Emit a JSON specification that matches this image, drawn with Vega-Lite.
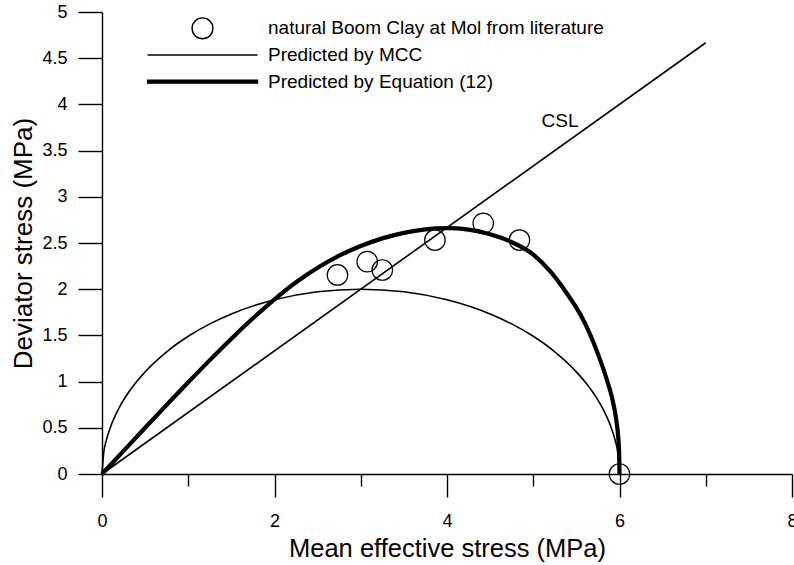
{
  "$schema": "https://vega.github.io/schema/vega-lite/v6.json",
  "width": 690,
  "height": 462,
  "autosize": "none",
  "padding": {"left": 102, "top": 12, "right": 2, "bottom": 91},
  "background": "white",
  "config": {
    "view": {"stroke": null},
    "font": "Liberation Sans",
    "axis": {
      "grid": false,
      "domainColor": "black",
      "domainWidth": 1.4,
      "tickColor": "black",
      "tickWidth": 1.4,
      "labelColor": "black",
      "titleColor": "black",
      "labelFont": "Liberation Sans",
      "titleFont": "Liberation Sans",
      "labelFontSize": 18,
      "titleFontWeight": "normal"
    }
  },
  "datasets": {
    "csl": [{"p": 0, "q": 0}, {"p": 7, "q": 4.667}],
    "mcc": [
      {"p": 0, "q": 0, "series": "Predicted by MCC"},
      {"p": 0.02, "q": 0.2305, "series": "Predicted by MCC"},
      {"p": 0.05, "q": 0.3636, "series": "Predicted by MCC"},
      {"p": 0.1, "q": 0.5121, "series": "Predicted by MCC"},
      {"p": 0.2, "q": 0.718, "series": "Predicted by MCC"},
      {"p": 0.35, "q": 0.9375, "series": "Predicted by MCC"},
      {"p": 0.5, "q": 1.1055, "series": "Predicted by MCC"},
      {"p": 0.75, "q": 1.3229, "series": "Predicted by MCC"},
      {"p": 1, "q": 1.4907, "series": "Predicted by MCC"},
      {"p": 1.25, "q": 1.6245, "series": "Predicted by MCC"},
      {"p": 1.5, "q": 1.7321, "series": "Predicted by MCC"},
      {"p": 2, "q": 1.8856, "series": "Predicted by MCC"},
      {"p": 2.5, "q": 1.972, "series": "Predicted by MCC"},
      {"p": 3, "q": 2.0, "series": "Predicted by MCC"},
      {"p": 3.5, "q": 1.972, "series": "Predicted by MCC"},
      {"p": 4, "q": 1.8856, "series": "Predicted by MCC"},
      {"p": 4.5, "q": 1.7321, "series": "Predicted by MCC"},
      {"p": 4.75, "q": 1.6245, "series": "Predicted by MCC"},
      {"p": 5, "q": 1.4907, "series": "Predicted by MCC"},
      {"p": 5.25, "q": 1.3229, "series": "Predicted by MCC"},
      {"p": 5.5, "q": 1.1055, "series": "Predicted by MCC"},
      {"p": 5.65, "q": 0.9375, "series": "Predicted by MCC"},
      {"p": 5.8, "q": 0.718, "series": "Predicted by MCC"},
      {"p": 5.9, "q": 0.5121, "series": "Predicted by MCC"},
      {"p": 5.95, "q": 0.3636, "series": "Predicted by MCC"},
      {"p": 5.98, "q": 0.2305, "series": "Predicted by MCC"},
      {"p": 6, "q": 0, "series": "Predicted by MCC"}
    ],
    "eq12": [
      {"p": 0, "q": 0, "series": "Predicted by Equation (12)"},
      {"p": 0.25, "q": 0.25, "series": "Predicted by Equation (12)"},
      {"p": 0.5, "q": 0.5, "series": "Predicted by Equation (12)"},
      {"p": 0.75, "q": 0.7475, "series": "Predicted by Equation (12)"},
      {"p": 1, "q": 0.9925, "series": "Predicted by Equation (12)"},
      {"p": 1.25, "q": 1.2325, "series": "Predicted by Equation (12)"},
      {"p": 1.5, "q": 1.465, "series": "Predicted by Equation (12)"},
      {"p": 1.75, "q": 1.685, "series": "Predicted by Equation (12)"},
      {"p": 2, "q": 1.89, "series": "Predicted by Equation (12)"},
      {"p": 2.25, "q": 2.075, "series": "Predicted by Equation (12)"},
      {"p": 2.5, "q": 2.2325, "series": "Predicted by Equation (12)"},
      {"p": 2.75, "q": 2.3625, "series": "Predicted by Equation (12)"},
      {"p": 3, "q": 2.4675, "series": "Predicted by Equation (12)"},
      {"p": 3.25, "q": 2.55, "series": "Predicted by Equation (12)"},
      {"p": 3.5, "q": 2.61, "series": "Predicted by Equation (12)"},
      {"p": 3.75, "q": 2.6475, "series": "Predicted by Equation (12)"},
      {"p": 4, "q": 2.66, "series": "Predicted by Equation (12)"},
      {"p": 4.25, "q": 2.645, "series": "Predicted by Equation (12)"},
      {"p": 4.5, "q": 2.595, "series": "Predicted by Equation (12)"},
      {"p": 4.75, "q": 2.51, "series": "Predicted by Equation (12)"},
      {"p": 5, "q": 2.375, "series": "Predicted by Equation (12)"},
      {"p": 5.2, "q": 2.19, "series": "Predicted by Equation (12)"},
      {"p": 5.4, "q": 1.94, "series": "Predicted by Equation (12)"},
      {"p": 5.55, "q": 1.72, "series": "Predicted by Equation (12)"},
      {"p": 5.65, "q": 1.53, "series": "Predicted by Equation (12)"},
      {"p": 5.75, "q": 1.3, "series": "Predicted by Equation (12)"},
      {"p": 5.85, "q": 1.03, "series": "Predicted by Equation (12)"},
      {"p": 5.92, "q": 0.8, "series": "Predicted by Equation (12)"},
      {"p": 5.96, "q": 0.6, "series": "Predicted by Equation (12)"},
      {"p": 5.985, "q": 0.4, "series": "Predicted by Equation (12)"},
      {"p": 5.997, "q": 0.2, "series": "Predicted by Equation (12)"},
      {"p": 6, "q": 0, "series": "Predicted by Equation (12)"}
    ],
    "obs": [
      {"p": 2.73, "q": 2.154, "series": "natural Boom Clay at Mol from literature"},
      {"p": 3.075, "q": 2.298, "series": "natural Boom Clay at Mol from literature"},
      {"p": 3.25, "q": 2.208, "series": "natural Boom Clay at Mol from literature"},
      {"p": 3.86, "q": 2.532, "series": "natural Boom Clay at Mol from literature"},
      {"p": 4.42, "q": 2.713, "series": "natural Boom Clay at Mol from literature"},
      {"p": 4.84, "q": 2.532, "series": "natural Boom Clay at Mol from literature"},
      {"p": 6.0, "q": 0.0, "series": "natural Boom Clay at Mol from literature"}
    ],
    "lbl": [{"p": 5.31, "q": 3.759, "text": "CSL"}]
  },
  "layer": [
    {
      "data": {"name": "csl"},
      "mark": {"type": "line", "color": "black", "strokeWidth": 1.6},
      "encoding": {
        "x": {
          "field": "p", "type": "quantitative",
          "scale": {"domain": [0, 8], "nice": false, "zero": false},
          "axis": {
            "orient": "bottom",
            "values": [0, 2, 4, 6, 8],
            "tickSize": 23,
            "labelPadding": 15,
            "labelFlush": false,
            "labelOverlap": false,
            "title": "Mean effective stress (MPa)",
            "titleFontSize": 25.5,
            "titleBaseline": "alphabetic",
            "titleY": 82
          }
        },
        "y": {
          "field": "q", "type": "quantitative",
          "scale": {"domain": [0, 5], "nice": false, "zero": false},
          "axis": {
            "values": [0, 0.5, 1, 1.5, 2, 2.5, 3, 3.5, 4, 4.5, 5],
            "format": ".1~f",
            "tickSize": 24,
            "labelPadding": 11,
            "labelFlush": false,
            "labelOverlap": false,
            "title": "Deviator stress (MPa)",
            "titleFontSize": 26,
            "titleBaseline": "alphabetic",
            "titleAlign": "center",
            "titleAngle": -90,
            "titleX": -71,
            "titleY": 231
          }
        }
      }
    },
    {
      "data": {"name": "mcc"},
      "mark": {"type": "line", "strokeWidth": 1.6, "interpolate": "monotone"},
      "encoding": {
        "x": {
          "field": "p", "type": "quantitative",
          "scale": {"domain": [0, 8], "nice": false, "zero": false},
          "axis": {
            "orient": "bottom",
            "values": [1, 3, 5, 7],
            "tickSize": 12,
            "labels": false,
            "domain": false,
            "title": null
          }
        },
        "y": {"field": "q", "type": "quantitative", "scale": {"domain": [0, 5], "nice": false, "zero": false}},
        "color": {
          "field": "series", "type": "nominal",
          "scale": {
            "domain": ["natural Boom Clay at Mol from literature", "Predicted by MCC", "Predicted by Equation (12)"],
            "range": ["black", "black", "black"]
          },
          "legend": {
            "orient": "none",
            "legendX": 44.5,
            "legendY": 4.3,
            "padding": 0,
            "title": null,
            "symbolType": "stroke",
            "symbolSize": 12100,
            "symbolStrokeWidth": 1.4,
            "clipHeight": 24,
            "rowPadding": 2.7,
            "labelOffset": 9.5,
            "labelFont": "Liberation Sans",
            "labelFontSize": 19,
            "labelColor": "black",
            "labelLimit": 500,
            "encode": {
              "symbols": {
                "update": {
                  "shape": {"signal": "datum.value === 'natural Boom Clay at Mol from literature' ? 'M0.19,0A0.19,0.19,0,1,1,-0.19,0A0.19,0.19,0,1,1,0.19,0Z' : (datum.value === 'Predicted by Equation (12)' ? 'M-1,-0.026H1V0.026H-1Z' : 'stroke')"},
                  "size": {"value": 12100},
                  "fill": {"signal": "datum.value === 'Predicted by Equation (12)' ? 'black' : 'transparent'"},
                  "stroke": {"value": "black"},
                  "opacity": {"value": 1}
                }
              }
            }
          }
        }
      }
    },
    {
      "data": {"name": "eq12"},
      "mark": {"type": "line", "strokeWidth": 4.2, "interpolate": "monotone"},
      "encoding": {
        "x": {"field": "p", "type": "quantitative", "scale": {"domain": [0, 8], "nice": false, "zero": false}, "axis": null},
        "y": {"field": "q", "type": "quantitative", "scale": {"domain": [0, 5], "nice": false, "zero": false}},
        "color": {"field": "series", "type": "nominal"}
      }
    },
    {
      "data": {"name": "obs"},
      "mark": {"type": "point", "shape": "circle", "filled": false, "size": 420, "strokeWidth": 1.2, "opacity": 1},
      "encoding": {
        "x": {"field": "p", "type": "quantitative", "scale": {"domain": [0, 8], "nice": false, "zero": false}, "axis": null},
        "y": {"field": "q", "type": "quantitative", "scale": {"domain": [0, 5], "nice": false, "zero": false}},
        "color": {"field": "series", "type": "nominal"}
      }
    },
    {
      "data": {"name": "lbl"},
      "mark": {"type": "text", "fontSize": 19, "align": "center", "baseline": "alphabetic", "color": "black", "font": "Liberation Sans"},
      "encoding": {
        "x": {"field": "p", "type": "quantitative", "scale": {"domain": [0, 8], "nice": false, "zero": false}, "axis": null},
        "y": {"field": "q", "type": "quantitative", "scale": {"domain": [0, 5], "nice": false, "zero": false}},
        "text": {"field": "text"}
      }
    }
  ],
  "resolve": {"axis": {"x": "independent"}}
}
